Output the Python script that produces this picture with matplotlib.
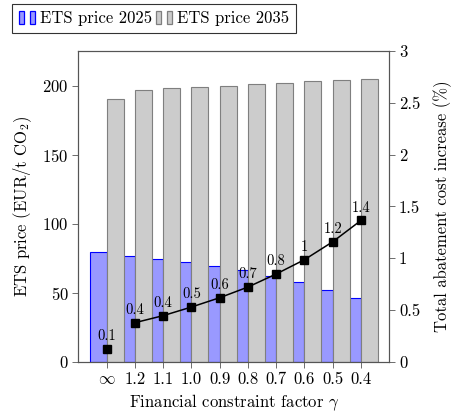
import matplotlib
matplotlib.use("Agg")
import matplotlib.pyplot as plt
from matplotlib.patches import Rectangle
from matplotlib.legend_handler import HandlerTuple
import numpy as np

plt.rcParams['font.family'] = ['cmr10', 'DejaVu Serif']
plt.rcParams['mathtext.fontset'] = 'cm'
plt.rcParams['axes.formatter.use_mathtext'] = True

categories = [r'$\infty$', '1.2', '1.1', '1.0', '0.9', '0.8', '0.7', '0.6', '0.5', '0.4']
ets_2025 = [79.5, 77.0, 74.6, 72.2, 69.3, 66.7, 62.3, 57.7, 52.2, 46.1]
ets_2035 = [190.4, 197.1, 198.0, 199.0, 200.0, 201.0, 202.0, 203.0, 204.0, 205.0]
cost_increase = [0.128, 0.379, 0.447, 0.53, 0.62, 0.723, 0.849, 0.987, 1.16, 1.366]
labels = ['0.1', '0.4', '0.4', '0.5', '0.6', '0.7', '0.8', '1', '1.2', '1.4']

fig = plt.figure(figsize=(4.51, 4.17), dpi=100)
ax = fig.add_axes([0.1736, 0.1319, 0.8632 - 0.1736, 0.8777 - 0.1319])
x = np.arange(len(categories))
w = 0.6
spine_c = '#555555'

b1 = ax.bar(x - w / 2, ets_2025, width=w, color='#9999ff', edgecolor='#0000ff', linewidth=0.8, zorder=2)
b2 = ax.bar(x + w / 2, ets_2035, width=w, color='#cccccc', edgecolor='#7f7f7f', linewidth=0.8, zorder=2)

ax.set_xlim(-1, 10)
ax.set_ylim(0, 225)
ax.set_yticks([0, 50, 100, 150, 200])
ax.set_xticks(x)
ax.set_xticklabels(categories)
ax.tick_params(axis='both', direction='out', length=4, width=0.6, color=spine_c, labelsize=12, pad=3)
ax.set_xlabel(r'Financial constraint factor $\gamma$', fontsize=12, labelpad=4)
ax.set_ylabel(r'ETS price (EUR/t CO$_2$)', fontsize=12, labelpad=6)
for s in ax.spines.values():
    s.set_color(spine_c)
    s.set_linewidth(0.8)

ax2 = ax.twinx()
ax2.set_ylim(0, 3)
ax2.set_yticks([0, 0.5, 1, 1.5, 2, 2.5, 3])
ax2.set_yticklabels(['0', '0.5', '1', '1.5', '2', '2.5', '3'])
ax2.tick_params(axis='y', direction='out', length=4, width=0.6, color=spine_c, labelsize=12, pad=3)
ax2.set_ylabel('Total abatement cost increase (%)', fontsize=12, labelpad=9)
for s in ax2.spines.values():
    s.set_color(spine_c)
    s.set_linewidth(0.8)

ax2.plot(x[1:], cost_increase[1:], color='black', linewidth=1.1, zorder=3)
ax2.plot(x, cost_increase, linestyle='none', marker='s', markersize=5.8, color='black', zorder=4)
for xi, yi, lab in zip(x, cost_increase, labels):
    ax2.annotate(lab, (xi, yi), xytext=(0, 4), textcoords='offset points', ha='center', va='bottom', fontsize=10.5)

h1 = (Rectangle((0, 0), 1, 1, facecolor='#9999ff', edgecolor='#0000ff', linewidth=0.9),
      Rectangle((0, 0), 1, 1, facecolor='#9999ff', edgecolor='#0000ff', linewidth=0.9))
h2 = (Rectangle((0, 0), 1, 1, facecolor='#cccccc', edgecolor='#7f7f7f', linewidth=0.9),
      Rectangle((0, 0), 1, 1, facecolor='#cccccc', edgecolor='#7f7f7f', linewidth=0.9))
leg = fig.legend([h1, h2], ['ETS price 2025', 'ETS price 2035'],
                 handler_map={tuple: HandlerTuple(ndivide=None, pad=0.35)},
                 loc='upper left', bbox_to_anchor=(12 / 451, 1 - 4 / 417), borderaxespad=0,
                 ncol=2, fontsize=12, frameon=True, fancybox=False, edgecolor='black',
                 handlelength=1.0, handleheight=0.8, handletextpad=0.3, columnspacing=0.2,
                 borderpad=0.4)
leg.get_frame().set_linewidth(0.8)

fig.savefig('out.png', dpi=100)
